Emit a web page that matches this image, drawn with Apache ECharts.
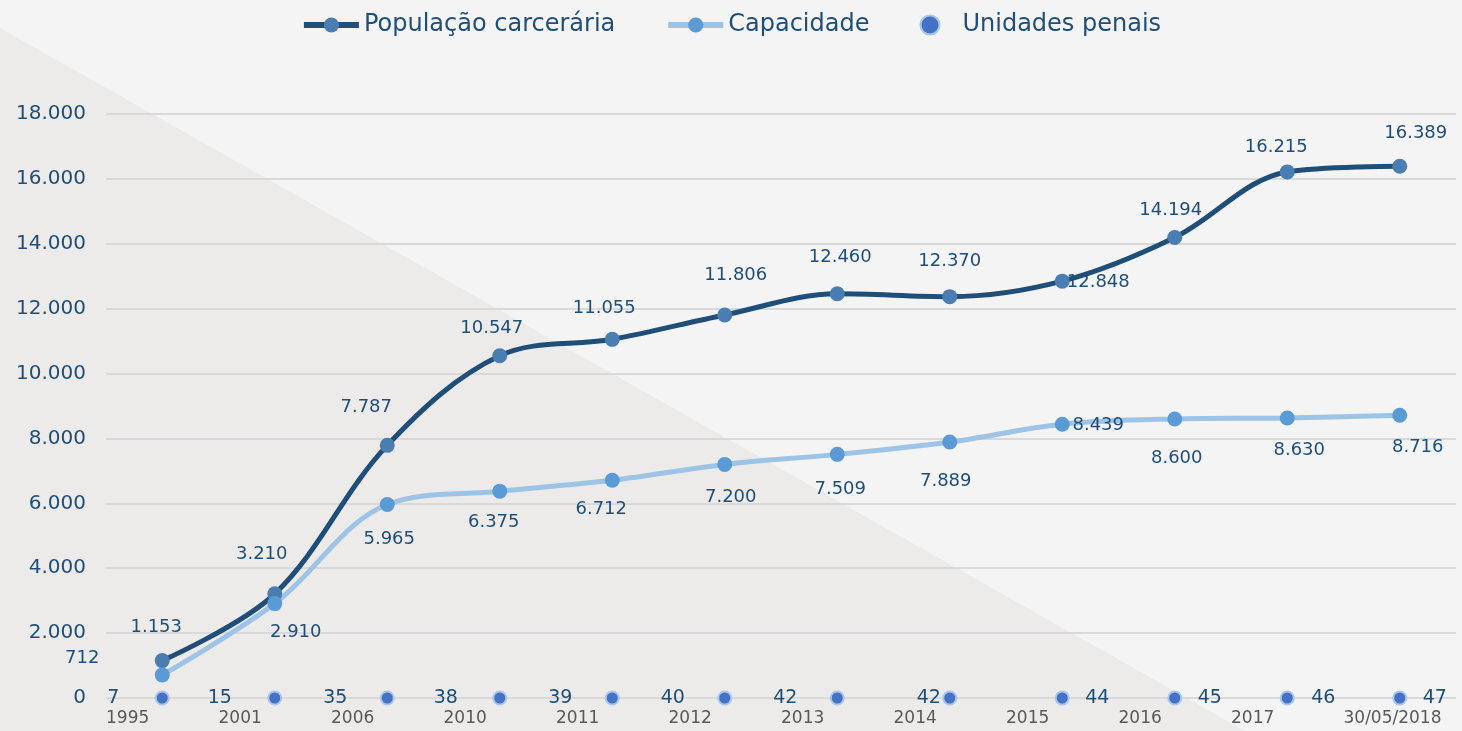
<!DOCTYPE html>
<html lang="pt">
<head>
    <meta charset="UTF-8">
    <title>População carcerária</title>
    <script src="https://cdn.jsdelivr.net/npm/echarts@6/dist/echarts.min.js"></script>
    <style>
        html, body { margin: 0; padding: 0; background: #f4f4f4; }
    </style>
</head>
<body>
<div id="grafico" style="width: 1462px;height:731px;"></div>

<script type="text/javascript">
    // dados do gráfico
    var anos = ['1995', '2001', '2006', '2010', '2011', '2012', '2013', '2014', '2015', '2016', '2017', '30/05/2018'];
    var populacao = [1153, 3210, 7787, 10547, 11055, 11806, 12460, 12370, 12848, 14194, 16215, 16389];
    var capacidade = [712, 2910, 5965, 6375, 6712, 7200, 7509, 7889, 8439, 8600, 8630, 8716];
    var unidades = [7, 15, 35, 38, 39, 40, 42, 42, 44, 45, 46, 47];
    var yMin = 0, yMax = 18000, yPasso = 2000;

    // deslocamento dos rótulos (px, a partir do centro do ponto)
    var posPop = [[-6, -33], [-13, -40], [-21, -38], [-8, -27], [-8, -31], [11, -40], [3, -36], [0, -35], [36, 1], [-4, -27], [-11, -25], [16, -33]];
    var posCap = [[-80, -17], [21, 29], [2, 35], [-6, 31], [-11, 29], [6, 33], [3, 35], [-4, 39], [36, 1], [2, 39], [12, 32], [18, 32]];
    var posUni = [-49, -55, -52, -54, -52, -52, -52, -21, 35, 35, 36, 35];

    var azulEscuro = '#1f4e79';
    var fonte = '"DejaVu Sans", sans-serif';

    function fmt(v) {
        return String(v).replace(/\B(?=(\d{3})+(?!\d))/g, '.');
    }

    // rótulo centrado no ponto, depois deslocado
    var rotuloBase = {
        show: true,
        position: ['50%', '50%'],
        align: 'center',
        verticalAlign: 'middle',
        color: azulEscuro,
        opacity: 1,
        textBorderWidth: 0,
        textBorderColor: 'transparent',
        fontSize: 18,
        fontFamily: fonte
    };

    function pontos(valores, desloc) {
        return valores.map(function (v, i) {
            return {
                value: v,
                label: {offset: desloc[i]}
            };
        });
    }

    var myChart = echarts.init(document.getElementById('grafico'));

    var option = {
        backgroundColor: '#f4f4f4',
        textStyle: {fontFamily: fonte},
        animation: false,
        graphic: [{
            type: 'polygon',
            z: -10,
            silent: true,
            shape: {points: [[0, 28], [1245, 731], [0, 731]]},
            style: {fill: '#ecebe9'}
        }],
        legend: {
            top: 8,
            left: 'center',
            itemWidth: 55,
            itemHeight: 19,
            itemGap: 50,
            textStyle: {color: azulEscuro, fontSize: 24, fontFamily: fonte},
            data: [
                {name: 'População carcerária', lineStyle: {width: 6}},
                {name: 'Capacidade', lineStyle: {width: 6}},
                {name: 'Unidades penais'}
            ]
        },
        grid: {left: 106, right: 6, top: 114, bottom: 33},
        xAxis: [{
            type: 'category',
            data: anos,
            boundaryGap: true,
            axisLine: {show: false},
            axisTick: {show: false},
            axisLabel: {show: false}
        }, {
            type: 'category',
            position: 'bottom',
            data: anos.concat(['']),
            boundaryGap: false,
            axisLine: {show: false},
            axisTick: {show: false},
            axisLabel: {
                interval: 0,
                align: 'left',
                margin: 12,
                color: '#595959',
                fontSize: 17,
                fontFamily: fonte
            }
        }],
        yAxis: {
            type: 'value',
            min: yMin,
            max: yMax,
            interval: yPasso,
            axisLine: {show: false},
            axisTick: {show: false},
            axisLabel: {
                margin: 20,
                color: azulEscuro,
                fontSize: 20,
                fontFamily: fonte,
                formatter: fmt
            },
            splitLine: {lineStyle: {color: '#d9d9d9', width: 2}}
        },
        series: [{
            name: 'População carcerária',
            type: 'line',
            smooth: 0.35,
            symbol: 'circle',
            symbolSize: 15,
            lineStyle: {color: azulEscuro, width: 5},
            itemStyle: {color: '#4a7eb2'},
            label: Object.assign({}, rotuloBase, {
                formatter: function (p) { return fmt(p.value); }
            }),
            data: pontos(populacao, posPop)
        }, {
            name: 'Capacidade',
            type: 'line',
            smooth: 0.35,
            symbol: 'circle',
            symbolSize: 15,
            lineStyle: {color: '#9dc3e6', width: 5},
            itemStyle: {color: '#5b9bd5'},
            label: Object.assign({}, rotuloBase, {
                formatter: function (p) { return fmt(p.value); }
            }),
            data: pontos(capacidade, posCap)
        }, {
            name: 'Unidades penais',
            type: 'scatter',
            symbol: 'circle',
            symbolSize: 13,
            itemStyle: {color: '#4472c4', borderColor: '#a9c5ec', borderWidth: 2, opacity: 1},
            label: Object.assign({}, rotuloBase, {
                fontSize: 19,
                formatter: function (p) { return p.value[2]; }
            }),
            data: unidades.map(function (u, i) {
                return {value: [i, yMin, u], label: {offset: [posUni[i], 0]}};
            })
        }]
    };

    myChart.setOption(option);
</script>
</body>
</html>
